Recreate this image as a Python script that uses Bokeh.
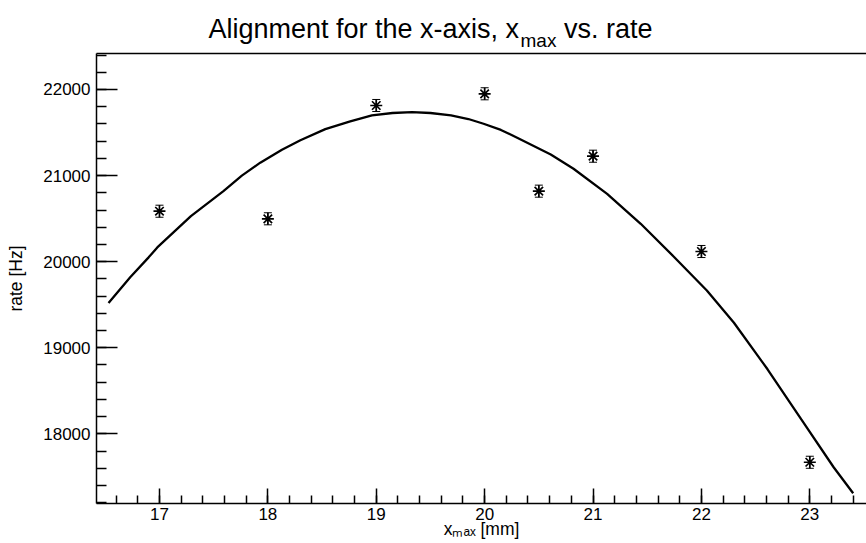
from bokeh.plotting import figure
from bokeh.layouts import column
from bokeh.models import (Range1d, SingleIntervalTicker, LinearAxis, FixedTicker,
                          Whisker, ColumnDataSource, TeeHead)
from bokeh.core.properties import value
from bokeh.embed import file_html
from bokeh.resources import INLINE

# measured points
x_pos = [17, 18, 19, 20, 20.5, 21, 22, 23]
rate = [20586, 20498, 21814, 21950, 20819, 21225, 20118, 17670]
rate_err = [70, 70, 70, 70, 70, 70, 70, 70]

# fitted curve
fit_x = [16.53, 16.73, 16.90, 16.98, 17.29, 17.59, 17.76, 17.93, 18.13, 18.30,
         18.53, 18.76, 18.96, 19.15, 19.33, 19.50, 19.69, 19.85, 19.99, 20.15,
         20.30, 20.61, 20.82, 21.13, 21.44, 21.75, 22.05, 22.30, 22.61, 22.92,
         23.22, 23.40]
fit_y = [19520, 19820, 20050, 20165, 20530, 20820, 21000, 21150, 21300, 21410,
         21540, 21630, 21700, 21727, 21736, 21727, 21700, 21657, 21602, 21530,
         21440, 21245, 21079, 20788, 20440, 20052, 19665, 19290, 18750, 18170,
         17612, 17310]

title_main = "Alignment for the x-axis, x"
title_sub = "max"
title_tail = "vs. rate"
x_title = "x\u2098\u2090\u2093 [mm]"
y_title = "rate [Hz]"

FONT = "Liberation Sans"
W = 866
LEFT = 96
TOP_H = 52

# ---- title strip (data units ~ canvas pixels) ----
t = figure(width=W, height=TOP_H, output_backend="svg", toolbar_location=None,
           x_range=Range1d(LEFT, W), y_range=Range1d(TOP_H, 0),
           x_axis_location=None, y_axis_location=None,
           min_border_left=LEFT, min_border_right=0, min_border_top=0,
           min_border_bottom=0, title=None)
t.outline_line_color = None
t.xgrid.visible = False
t.ygrid.visible = False
t.background_fill_color = "white"
t.border_fill_color = "white"

def ttext(txt, x, y, size, align):
    t.text(x=[x], y=[y], text=[txt], text_font=value(FONT),
           text_font_size=size, text_color="black", text_align=align,
           text_baseline="alphabetic")

ttext(title_main, 518.5, 28, "27px", "right")
ttext(title_sub, 520, 39.5, "19px", "left")
ttext(title_tail, 563.5, 28, "27px", "left")

# ---- main plot ----
p = figure(width=W, height=543 - TOP_H, output_backend="svg", toolbar_location=None,
           x_range=Range1d(16.419, 23.523), y_range=Range1d(17191, 22418),
           min_border_left=LEFT, min_border_right=0, min_border_top=1,
           min_border_bottom=40, title=None)
p.background_fill_color = "white"
p.border_fill_color = "white"
p.outline_line_color = None
p.xgrid.visible = False
p.ygrid.visible = False

xa = p.xaxis[0]
xa.ticker = SingleIntervalTicker(interval=1, num_minor_ticks=5)
xa.major_tick_in = 15
xa.major_tick_out = 0
xa.minor_tick_in = 8
xa.minor_tick_out = 0
xa.major_label_standoff = 4
xa.axis_label = x_title
xa.axis_label_standoff = -4

ya = p.yaxis[0]
ya.ticker = SingleIntervalTicker(interval=1000, num_minor_ticks=5)
ya.major_tick_in = 21
ya.major_tick_out = 0
ya.minor_tick_in = 10
ya.minor_tick_out = 0
ya.major_label_standoff = 6
ya.axis_label = y_title
ya.axis_label_standoff = 14

for ax in (xa, ya):
    ax.axis_line_color = "black"
    ax.axis_line_width = 1.5
    ax.major_tick_line_color = "black"
    ax.minor_tick_line_color = "black"
    ax.major_tick_line_width = 1.5
    ax.minor_tick_line_width = 1.5
    ax.major_label_text_font = FONT
    ax.major_label_text_font_size = "17px"
    ax.major_label_text_color = "black"
    ax.axis_label_text_font = FONT
    ax.axis_label_text_font_size = "17.5px"
    ax.axis_label_text_font_style = "normal"
    ax.axis_label_text_color = "black"

top = LinearAxis(ticker=FixedTicker(ticks=[]), axis_line_color="black",
                 axis_line_width=1.5, major_tick_in=0, major_tick_out=0,
                 minor_tick_in=0, minor_tick_out=0,
                 major_label_text_font_size="0px")
p.add_layout(top, "above")

# fit curve
p.line(fit_x, fit_y, line_color="black", line_width=2.3)

# data with error bars
src = ColumnDataSource(dict(
    x=x_pos, y=rate,
    lower=[r - e for r, e in zip(rate, rate_err)],
    upper=[r + e for r, e in zip(rate, rate_err)],
))
p.add_layout(Whisker(source=src, base="x", lower="lower", upper="upper",
                     line_color="black", line_width=1,
                     lower_head=TeeHead(size=8, line_color="black", line_width=1),
                     upper_head=TeeHead(size=8, line_color="black", line_width=1)))
p.scatter("x", "y", source=src, marker="asterisk", size=12,
          line_color="black", line_width=1.7)

layout = column(t, p, spacing=0)
open("out.html", "w").write(file_html(layout, INLINE))
